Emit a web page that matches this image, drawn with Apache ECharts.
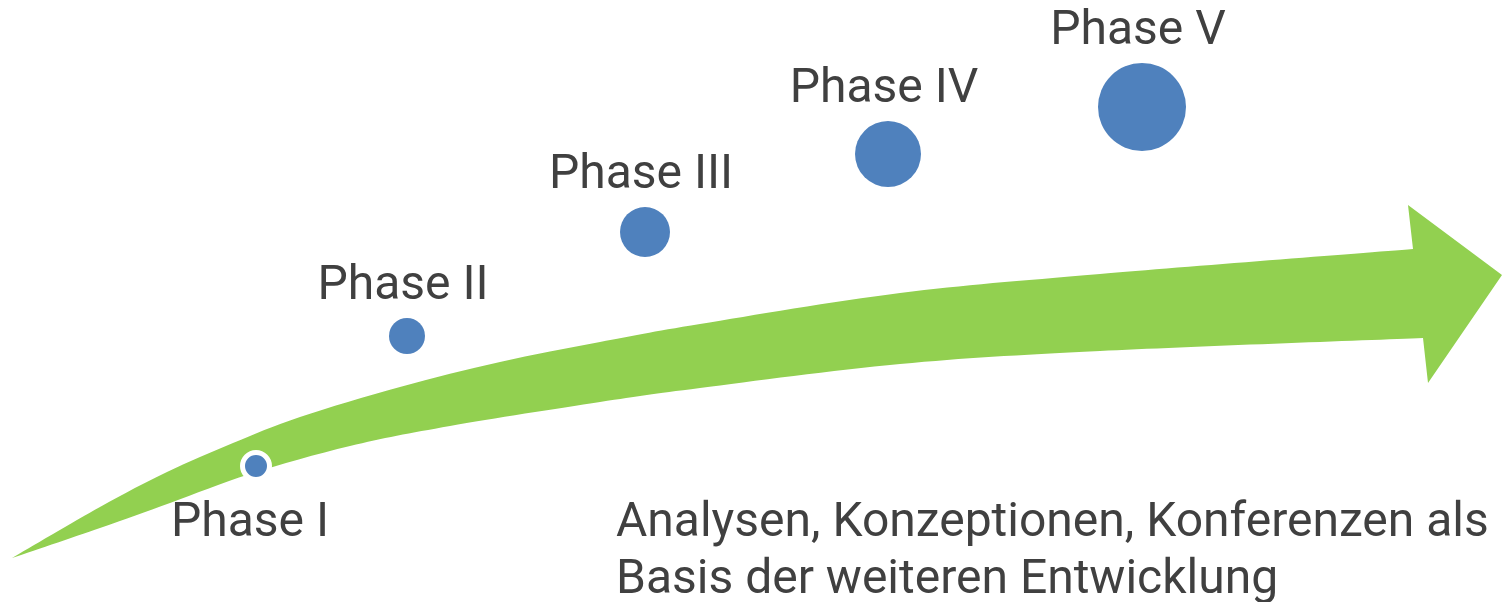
<!DOCTYPE html>
<html>
<head>
<meta charset="utf-8">
<script src="https://cdn.jsdelivr.net/npm/echarts@6/dist/echarts.min.js"></script>
<style>
  html, body { margin: 0; padding: 0; background: #fff; }
  #chart { width: 1504px; height: 602px; }
</style>
</head>
<body>
<div id="chart"></div>
<script>
// phases along the arrow (x / y in the diagram's frame, y counted from top)
const phases = ['Phase I', 'Phase II', 'Phase III', 'Phase IV', 'Phase V']
const phaseX = [256, 407, 645, 888, 1142]
const phaseY = [466, 336, 232, 154, 107]
const phaseSize = [22, 36, 50, 66, 88]

// green arrow outline
const arrowUpper = [[12, 558], [100, 507], [167, 472], [233, 443], [300, 417], [400, 387], [500, 362], [600, 342], [700, 324], [900, 293], [1100, 274], [1413, 249]]
const arrowHead = [[1408, 205], [1502, 275], [1428, 383]]
const arrowLower = [[1423, 338], [1100, 351], [900, 364], [700, 388], [600, 402], [450, 426], [350, 446], [250, 474], [170, 503], [100, 528], [12, 558]]

const note = 'Analysen, Konzeptionen, Konferenzen als\nBasis der weiteren Entwicklung'

const textColor = '#404040'
const font = 'Roboto'

const chart = echarts.init(document.getElementById('chart'))

// catmull-rom -> cubic bezier, returns path commands (without the initial M)
const smoothPath = (pts) => {
  let d = ''
  for (let i = 0; i < pts.length - 1; i++) {
    const p0 = pts[i - 1] || pts[i]
    const p1 = pts[i]
    const p2 = pts[i + 1]
    const p3 = pts[i + 2] || p2
    const c1 = [p1[0] + (p2[0] - p0[0]) / 6, p1[1] + (p2[1] - p0[1]) / 6]
    const c2 = [p2[0] - (p3[0] - p1[0]) / 6, p2[1] - (p3[1] - p1[1]) / 6]
    d += ' C' + c1.join(',') + ' ' + c2.join(',') + ' ' + p2.join(',')
  }
  return d
}

const renderArrow = (params, api) => {
  const up = arrowUpper.map(p => api.coord(p))
  const head = arrowHead.map(p => api.coord(p))
  const low = arrowLower.map(p => api.coord(p))
  let d = 'M' + up[0].join(',') + smoothPath(up)
  head.forEach(p => { d += ' L' + p.join(',') })
  d += ' L' + low[0].join(',') + smoothPath(low) + ' Z'
  return {
    type: 'path',
    shape: {pathData: d},
    style: {fill: '#92D050'},
  }
}

const phaseData = phases.map((name, i) => {
  const first = i === 0
  return {
    name: name,
    value: [phaseX[i], phaseY[i]],
    symbolSize: first ? phaseSize[i] + 5 : phaseSize[i],
    itemStyle: first ? {borderColor: '#fff', borderWidth: 5} : {},
    label: {
      position: first ? 'bottom' : 'top',
      distance: first ? 18 : 7,
      offset: [first ? -6 : -4, 0],
    },
  }
})

chart.setOption({
  animation: false,
  backgroundColor: '#fff',
  grid: {left: 0, right: 0, top: 0, bottom: 0},
  xAxis: {type: 'value', min: 0, max: 1504, show: false},
  yAxis: {type: 'value', min: 0, max: 602, inverse: true, show: false},
  title: {
    text: note,
    left: 616,
    top: 495,
    padding: 0,
    textStyle: {
      fontFamily: font,
      fontSize: 48,
      fontWeight: 'normal',
      lineHeight: 57,
      color: textColor,
    },
  },
  series: [
    {
      type: 'custom',
      renderItem: renderArrow,
      data: [[0, 0]],
      silent: true,
    },
    {
      type: 'scatter',
      symbol: 'circle',
      itemStyle: {color: '#4F81BD', opacity: 1},
      label: {
        show: true,
        formatter: '{b}',
        fontFamily: font,
        fontSize: 48,
        lineHeight: 48,
        color: textColor,
        opacity: 1,
      },
      data: phaseData,
    },
  ],
})
</script>
</body>
</html>
